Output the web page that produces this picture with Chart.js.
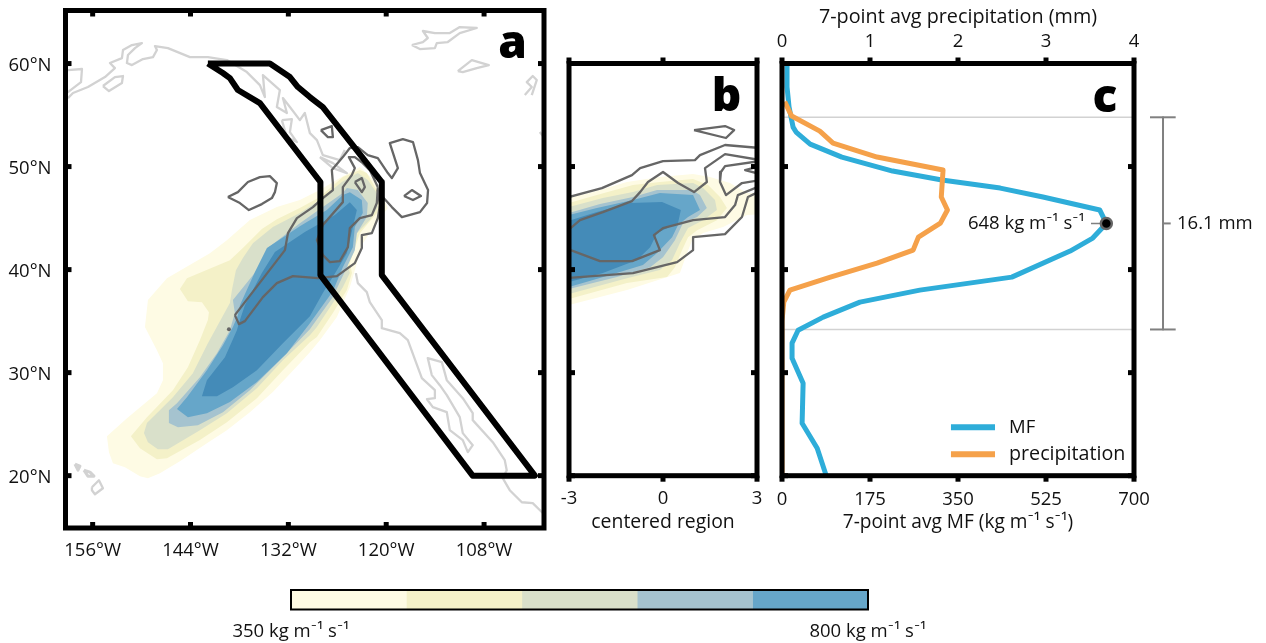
<!DOCTYPE html>
<html>
<head>
<meta charset="utf-8">
<title>Moisture flux and precipitation</title>
<script src="https://cdn.jsdelivr.net/npm/chart.js@4/dist/chart.umd.min.js"></script>
<style>
  html, body { margin: 0; padding: 0; background: #fff; }
  #page { position: relative; width: 1266px; height: 643px; overflow: hidden; }
  canvas { position: absolute; }
</style>
</head>
<body>
<div id="page">
  <canvas id="panelA" width="556" height="570" style="left:0;top:0"></canvas>
  <canvas id="panelB" width="222" height="540" style="left:550px;top:0"></canvas>
  <canvas id="panelC" width="494" height="540" style="left:772px;top:0"></canvas>
  <canvas id="colorbar" width="730" height="63" style="left:220px;top:580px"></canvas>
</div>
<script>
// --- tick labels / categories ---
const latTicks = [20, 30, 40, 50, 60];
const lonTicks = [-156, -144, -132, -120, -108];
const centeredTicks = [-3, 0, 3];
const precipTicks = [0, 1, 2, 3, 4];
const mfTicks = [0, 175, 350, 525, 700];
const barTicks = [350, 800];
const levelColors = ['#FEFBE4', '#F4F1C8', '#D9E0CA', '#A5C3CF', '#66A6C9', '#448BB8'];
const barEdges = [350, 440, 530, 620, 710, 800];

// --- panel a: filled MF levels, [lon, lat] ---
const mapLevel1 = [[-154.25,23.83],[-154,22.28],[-153.51,21.21],[-152.04,20.82],[-150.2,19.95],[-149.22,19.76],[-147.75,20.24],[-145.3,21.41],[-141.99,23.15],[-139.54,24.42],[-136.72,26.16],[-133.9,28.11],[-130.59,30.92],[-129.36,31.99],[-128.14,33.15],[-126.05,35.39],[-124.46,38.3],[-123.85,39.95],[-122.99,42.38],[-121.4,44.32],[-119.8,45.97],[-120.78,47.72],[-121.76,48.88],[-123.23,49.95],[-125.69,48.88],[-128.14,47.72],[-130.59,46.75],[-133.41,46.07],[-136.72,44.81],[-139.54,42.86],[-141.62,41.6],[-146.89,39.17],[-149.22,37.04],[-149.59,34.42],[-148.12,32.18],[-147.38,30.92],[-147.38,29.27],[-148.12,28.01],[-151.79,25.58]];
const mapLevel2 = [[-151.31,23.83],[-150.2,22.67],[-148.12,21.6],[-146.89,21.7],[-142.85,23.45],[-139.54,25.19],[-135.86,27.52],[-132.67,30.24],[-129.36,32.96],[-128.5,33.45],[-126.54,35.78],[-124.82,38.01],[-124.2,39.66],[-124.46,40.63],[-123.23,43.54],[-121.15,45.49],[-120.54,47.04],[-121.4,48.01],[-122.38,49.37],[-123.23,49.66],[-125.32,48.98],[-128.14,47.04],[-130.59,45.97],[-133.41,44.9],[-135.25,43.93],[-137.58,42.09],[-139.17,40.92],[-144.44,39.17],[-145.3,38.11],[-144.32,36.94],[-142.6,36.84],[-141.74,35.87],[-141.87,35.1],[-142.85,33.15],[-144.32,30.53],[-146.16,28.3],[-149.34,25.68]];
const mapLevel3 = [[-149.71,24.13],[-149.22,23.25],[-148,22.57],[-146.77,22.57],[-142.85,24.42],[-139.54,26.07],[-135.86,28.49],[-132.67,31.21],[-129.36,33.64],[-128.5,34.42],[-126.54,36.75],[-125.32,38.3],[-124.46,39.66],[-124.82,40.63],[-123.6,43.54],[-122.01,44.81],[-121.03,46.07],[-121.15,47.43],[-122.26,48.69],[-123.48,49.37],[-125.44,48.5],[-128.14,46.75],[-130.59,45.49],[-133.9,44.13],[-136.35,42.57],[-137.58,41.12],[-138.43,39.95],[-138.92,38.01],[-139.17,36.75],[-141.87,32.86],[-143.71,29.95],[-146.16,27.62],[-149.34,25.1]];
const mapLevel4 = [[-146.65,26.36],[-146.65,25.1],[-145.54,24.71],[-143.09,24.9],[-140.02,26.16],[-136.72,28.3],[-133.04,31.21],[-129.36,34.22],[-126.54,37.33],[-124.82,40.24],[-123.85,41.89],[-123.6,43.54],[-122.38,45.1],[-122.26,46.46],[-123.48,47.72],[-124.82,47.91],[-125.32,47.43],[-127.77,46.07],[-130.59,44.51],[-134.51,42.09],[-135.86,39.95],[-138.8,37.04],[-138.56,35.78],[-139.17,34.12],[-140.76,31.89],[-142.85,29.56],[-145.66,27.04]];
const mapLevel5 = [[-145.66,26.46],[-144.32,25.68],[-141.99,26.07],[-139.17,27.14],[-135.86,29.08],[-132.18,31.89],[-129.36,34.8],[-126.54,37.91],[-125.32,40.24],[-124.09,42.18],[-123.85,44.13],[-122.87,45.49],[-122.99,46.75],[-124.46,47.52],[-125.32,47.23],[-127.28,45.78],[-130.59,44.22],[-134.63,42.09],[-136.1,39.76],[-137.94,36.55],[-138.19,35.58],[-138.8,34.42],[-140.02,32.67],[-141.99,30.24],[-144.44,27.62]];
const mapLevel6 = [[-142.6,27.72],[-140.76,27.72],[-138.8,28.59],[-135.86,30.24],[-132.67,32.86],[-129.36,35.48],[-127.77,37.72],[-126.05,39.95],[-124.82,41.6],[-124.09,44.13],[-123.6,45.78],[-124.46,46.55],[-126.3,45.29],[-129.98,43.64],[-133.65,41.7],[-135.25,39.66],[-137.33,36.55],[-137.94,35.1],[-138.31,34.12],[-139.78,31.5],[-141.99,29.27]];

// --- panel a: precipitation contours ---
const contourGulf = [[-139.42,47.04],[-138.19,47.52],[-136.96,48.5],[-135.49,48.98],[-134.27,49.08],[-133.41,48.4],[-133.65,47.52],[-134.02,46.94],[-135.25,46.36],[-136.84,45.78],[-137.94,46.46]];
const contourHaida = [[-128.02,53.54],[-126.67,53.93],[-126.54,52.86],[-127.15,52.86]];
const contourInner = [[-121.03,48.01],[-121.15,46.46],[-121.76,45.29],[-123.23,45],[-124.46,44.03],[-124.7,42.18],[-125.69,40.82],[-126.91,40.73],[-127.77,41.41],[-128.5,42.86],[-127.77,44.32],[-125.32,46.55],[-125.32,48.01],[-124.22,49.17],[-123.85,49.85],[-124.58,50.92],[-123.85,50.92],[-122.87,50.34],[-122.01,49.66]];
const contourIsland = [[-123.85,48.5],[-122.99,48.88],[-122.62,48.01],[-122.99,47.52]];
const contourInland = [[-117.82,47.14],[-116.85,47.72],[-115.74,47.14],[-116.72,46.75]];
const contourOuter = [[-138.56,35.58],[-132.42,41.89],[-132.05,43.54],[-130.95,45],[-128.99,46.07],[-127.77,46.94],[-126.54,47.72],[-126.54,48.4],[-126.67,49.66],[-125.32,50.92],[-124.46,51.8],[-123.48,51.89],[-122.26,51.12],[-121.03,50.82],[-119.8,49.37],[-119.31,48.88],[-118.57,49.85],[-119.56,52.28],[-117.96,52.67],[-116.72,52.38],[-116.11,50.63],[-115.86,49.37],[-114.87,47.72],[-114.99,46.46],[-115.86,45.58],[-118.08,45.1],[-119.31,46.07],[-120.42,47.04],[-121.03,47.72],[-120.78,46.26],[-121.03,45],[-121.76,43.54],[-122.99,43.35],[-122.99,42.09],[-123.85,40.63],[-126.05,39.37],[-128.38,39.17],[-131.44,39.37],[-133.41,38.69],[-135.12,37.33],[-137.33,35],[-138.06,34.71]];
const contourDot = [[-139.29,34.22]];

// --- panel a: transect outline ---
const transect = [[-141.87,60],[-134.27,60],[-131.81,58.69],[-130.83,57.72],[-129.36,56.75],[-127.77,55.78],[-120.54,48.5],[-120.54,39.47],[-101.77,20],[-109.4,20],[-128.07,39.47],[-128.07,48.5],[-135.49,56.16],[-138.19,57.43],[-139.17,58.59],[-140.03,59.08]];

// --- panel a: coastlines ---
const coastAlaska = [[-159.03,56.65],[-158.41,57.14],[-156.58,57.72],[-154.49,58.69],[-153.27,59.56],[-153.88,60.05],[-152.41,60.53],[-152.28,61.31],[-151.18,61.8],[-149.96,61.99],[-150.81,61.5],[-151.67,60.83],[-151.8,60.05],[-151.18,59.85],[-149.83,60.44],[-148.6,60.63],[-148.12,61.31],[-148.36,61.7],[-146.77,61.5],[-144.07,60.63],[-141.87,60.63],[-139.54,60.34],[-137.09,59.17],[-135.49,57.91],[-134.88,56.75],[-135.12,58.88],[-133.04,57.43],[-133.41,55.78],[-132.18,55.2],[-132.67,56.65],[-131.81,55.78],[-130.59,54.51],[-129.98,55.2],[-129.36,53.25],[-128.5,52.57],[-127.77,51.11],[-125.69,50.63],[-125.08,51.6]];
const coastHaida = [[-132.8,54.51],[-131.57,54.61],[-131.81,53.35],[-130.95,52.38],[-132.18,52.86]];
const coastVancouver = [[-128.14,50.92],[-126.54,50.34],[-124.82,49.37],[-126.54,49.85]];
const coastKodiak = [[-154.74,57.82],[-153.27,58.69],[-152.28,58.79],[-152.41,58.11],[-154,57.33]];
const coastWest = [[-160,59.37],[-159.03,59.37],[-157.31,59.47],[-157.43,58.2],[-159.03,57.23],[-160,56.84]];
const coastIslandA = [[-116.86,61.8],[-115.5,62.09],[-114.9,62.48],[-115.5,63.16],[-114.03,62.96],[-112.2,62.96],[-110.98,63.54],[-108.9,63.45],[-110.98,62.96],[-112.45,62.09],[-113.8,61.99],[-114.03,61.5],[-115.88,61.41]];
const coastIslandB = [[-111.22,59.27],[-109.5,60.34],[-107.42,59.85],[-108.9,59.56],[-110.61,59.17]];
const coastIslandC = [[-103,56.94],[-102.15,57.72],[-102.76,58.2],[-102.03,58.79],[-101.54,58.4],[-102.15,56.94]];
const coastIslandD = [[-101.17,53.35],[-100.4,52.57]];
const coastHawaiiA = [[-158.17,21.12],[-157.56,20.92],[-157.8,20.53]];
const coastHawaiiB = [[-157.07,20.53],[-156.33,20.34],[-155.84,19.95],[-156.58,19.95]];
const coastHawaiiC = [[-156.09,18.88],[-155.23,19.56],[-154.74,18.78],[-155.72,18.2],[-156.09,18.59]];
const coastMainland = [[-123.72,39.66],[-123.48,38.69],[-122.38,37.81],[-122.01,36.84],[-120.54,35.1],[-120.54,34.32],[-118.33,33.83],[-117.35,33.15],[-116.13,30.53],[-115.63,29.46],[-114.03,28.3],[-114.03,27.52],[-115,27.42],[-114.28,26.65],[-112.57,26.16],[-112.2,24.42],[-110.61,23.45],[-109.99,22.28],[-109.39,22.96],[-110.61,24.13],[-110.98,25.68],[-112.57,27.81],[-113.43,28.78],[-114.41,29.76],[-114.9,31.4],[-113.18,31.02],[-112.57,29.27],[-110.61,27.52],[-109.39,26.07],[-109.39,25.39],[-106.93,23.25],[-105.46,21.5],[-105.22,20.53],[-105.71,19.76],[-104.85,18.59],[-103.37,17.42],[-102.03,17.33],[-100.4,16.06]];

// --- panel b: filled levels, [centered position, lat] ---
const centeredLevel1 = [[-3.13,46.84],[-2.23,47.52],[-1.15,48.5],[-0.1,48.98],[0.96,49.27],[1.5,48.98],[2.14,48.4],[2.68,47.43],[3.1,47.43],[3.1,45.38],[2.68,45.29],[1.92,44.13],[1.28,43.54],[0.93,42.86],[0.77,41.6],[0.54,39.66],[-1.15,38.01],[-3.13,36.46]];
const centeredLevel2 = [[-3.13,46.36],[-2.11,47.23],[-0.96,48.2],[-0.1,48.5],[0.96,48.79],[1.44,48.2],[1.82,47.04],[2.04,45.97],[1.72,44.8],[1.09,43.83],[0.8,43.15],[0.61,41.89],[0.38,40.24],[0.13,39.27],[-1.15,38.69],[-3.13,37.04]];
const centeredLevel3 = [[-3.13,45.97],[-1.92,46.94],[-0.96,47.52],[-0.19,48.2],[0.96,48.4],[1.28,47.91],[1.66,46.75],[1.72,45.78],[1.28,44.8],[0.8,44.03],[0.54,42.57],[0.29,40.92],[-0.1,39.95],[-1.15,39.17],[-3.13,37.52]];
const centeredLevel4 = [[-3.13,45.39],[-2.01,46.36],[-0.96,47.04],[-0.19,47.72],[0.93,47.72],[1.18,47.23],[1.4,45.97],[1.09,45.1],[0.64,44.51],[0.38,42.86],[0,41.21],[-0.41,40.24],[-1.47,39.27],[-3.13,38.01]];
const centeredLevel5 = [[-3.13,45.19],[-2.11,45.97],[-0.96,46.75],[-0.1,47.43],[0.96,47.23],[1.18,45.78],[0.8,45.1],[0.48,44.32],[0.29,43.15],[-0.19,41.6],[-0.64,40.44],[-1.69,39.47],[-3.13,38.2]];
const centeredLevel6 = [[-3.13,44.61],[-2.11,45.58],[-1.05,46.46],[-0.03,46.55],[0.57,45.78],[0.48,44.51],[-0.19,43.54],[-0.41,42.18],[-0.83,40.92],[-1.92,39.66],[-3.13,38.69]];

// --- panel b: contours ---
const centeredLoop = [[0.99,53.54],[1.98,53.93],[2.27,53.54],[2.01,52.77],[0.99,53.54]];
const centeredLineA = [[-3.13,46.94],[-1.95,47.91],[-0.99,49.17],[-0.73,49.85],[0,50.53],[1.02,50.63],[1.18,51.11],[1.98,52.09],[3.1,51.8]];
const centeredLineB = [[3.1,50.63],[1.98,51.21],[1.34,49.85],[1.4,48.5],[0.99,47.52],[0.48,48.4],[0,49.47],[-0.48,48.5],[-0.73,47.52],[-0.99,46.65],[-1.92,45.58],[-2.65,44.8],[-3.13,43.54]];
const centeredLineC = [[3.1,50.53],[1.98,50.05],[1.85,49.47],[1.82,48.5],[2.01,47.23],[2.52,48.4],[3.1,48.69]];
const centeredLineD = [[3.1,50.05],[2.62,49.66],[3.1,49.27]];
const centeredLineE = [[-3.13,42.09],[-2.01,40.82],[-0.99,40.82],[-0.1,41.89],[-0.29,43.35],[0,44.03],[0.96,44.8],[1.98,45.1],[2.3,46.26],[2.39,47.23],[3.1,48.11]];
const centeredLineF = [[-3.13,39.17],[-0.96,39.66],[0.45,40.73],[0.96,41.89],[0.96,43.15],[1.98,43.44],[2.52,45.1],[2.71,47.04],[3.1,47.62]];

// --- panel c: profiles ---
const mfLat = [60, 57.72, 55.78, 53.83, 53.35, 52.18, 50.92, 49.56, 48.69, 47.91, 47.04, 45.78, 44.48, 43.06, 41.8, 39.27, 38.01, 36.84, 35.39, 34.12, 32.86, 31.4, 28.98, 25.09, 22.67, 20];
const mfValues = [10, 10, 14, 22, 28, 56, 119, 220, 318, 434, 519, 632, 645, 618, 573, 457, 274, 155, 82, 32, 20, 20, 42, 40, 70, 88];
const precipLat = [56.3, 54.9, 53.44, 52.28, 50.92, 49.66, 47.04, 45.78, 44.51, 43.15, 41.89, 40.63, 39.27, 38.01, 36.84, 35, 20];
const precipValues = [0.03, 0.11, 0.43, 0.58, 1.08, 1.83, 1.81, 1.88, 1.8, 1.55, 1.49, 1.08, 0.55, 0.09, 0.02, 0, 0];
const eventLat = [54.78, 44.48, 34.19];
const peakValue = 645;

const FONT = '"Open Sans", Lato, sans-serif';
const FONT_SIZE = 18.5;
const LETTER_FONT = `800 46px ${FONT}`;
const TEXT = '#111';
const CONTOUR = '#666';
const COAST = '#d2d2d2';
const MF_BLUE = '#2EADD9';
const PRECIP_ORANGE = '#F5A14A';
const BRACKET = '#808080';
const COAST_W = 2.3, CONTOUR_W = 2.3;

const xy = pts => pts.map(([x, y]) => ({ x, y }));
const ring = pts => pts.concat([pts[0]]);
const area = (pts, color) => ({ data: xy(ring(pts)), showLine: true, fill: 'shape', backgroundColor: color, borderColor: color, borderWidth: 0, pointRadius: 0 });
const line = (pts, color, width, extra) => Object.assign({ data: xy(pts), showLine: true, fill: false, borderColor: color, borderWidth: width, pointRadius: 0, borderJoinStyle: 'round' }, extra);
// listed bottom to top; chart.js draws lowest order last
const stack = list => list.map((d, i) => Object.assign(d, { order: list.length - i }));

// frame and short tick marks on all four sides
function framePlugin(cfg) {
    return {
        id: 'frame',
        afterDraw(chart) {
            const { ctx, chartArea: a } = chart;
            ctx.save();
            ctx.strokeStyle = '#000';
            ctx.lineWidth = cfg.width;
            ctx.strokeRect(a.left, a.top, a.right - a.left, a.bottom - a.top);
            ctx.lineCap = 'butt';
            const mark = (x0, y0, x1, y1) => { ctx.beginPath(); ctx.moveTo(x0, y0); ctx.lineTo(x1, y1); ctx.stroke(); };
            const len = cfg.tick || 0;
            if (len) {
                const topDir = cfg.topOut ? -1 : 1;
                const botDir = cfg.bottomOut ? 1 : -1;
                chart.scales[cfg.topScale].ticks.forEach(t => {
                    const px = chart.scales[cfg.topScale].getPixelForValue(t.value);
                    mark(px, a.top, px, a.top + topDir * len);
                });
                chart.scales[cfg.bottomScale].ticks.forEach(t => {
                    const px = chart.scales[cfg.bottomScale].getPixelForValue(t.value);
                    mark(px, a.bottom, px, a.bottom + botDir * len);
                });
                chart.scales.y.ticks.forEach(t => {
                    const py = chart.scales.y.getPixelForValue(t.value);
                    mark(a.left, py, a.left + len, py);
                    mark(a.right, py, a.right - len, py);
                });
            }
            ctx.restore();
        }
    };
}

// free text placed in data coordinates
function textPlugin(items) {
    return {
        id: 'freeText',
        afterDraw(chart) {
            const { ctx } = chart;
            ctx.save();
            items.forEach(it => {
                ctx.font = it.font || `${FONT_SIZE}px ${FONT}`;
                ctx.fillStyle = it.color || TEXT;
                ctx.textAlign = it.align || 'left';
                ctx.textBaseline = it.baseline || 'middle';
                ctx.fillText(it.text, chart.scales[it.scale || 'x'].getPixelForValue(it.x), chart.scales.y.getPixelForValue(it.y));
            });
            ctx.restore();
        }
    };
}

const fixTicks = vals => scale => { scale.ticks = vals.map(value => ({ value })); };
const tickFont = { family: FONT, size: FONT_SIZE };

function axis(min, max, vals, size, extra) {
    const isWidth = extra.position === 'left' || extra.position === 'right';
    return Object.assign({
        type: 'linear', min, max,
        afterBuildTicks: fixTicks(vals),
        afterFit: scale => {
            if (isWidth) scale.width = size; else scale.height = size;
            // keep long end labels from pushing the plot area in
            scale.paddingLeft = scale.paddingRight = scale.paddingTop = scale.paddingBottom = 0;
        },
        grid: { display: false, drawTicks: false },
        border: { display: false },
    }, extra, {
        ticks: Object.assign({ color: TEXT, font: tickFont, maxRotation: 0, minRotation: 0, autoSkip: false, includeBounds: false }, extra.ticks || {}),
    });
}

const baseOptions = (padding, scales) => ({
    responsive: false,
    animation: false,
    layout: { padding },
    plugins: { legend: { display: false }, tooltip: { enabled: false } },
    elements: { line: { tension: 0 } },
    scales,
});

new Chart(document.getElementById('panelA'), {
    type: 'scatter',
    data: {
        datasets: stack([
            area(mapLevel1, levelColors[0]), area(mapLevel2, levelColors[1]), area(mapLevel3, levelColors[2]),
            area(mapLevel4, levelColors[3]), area(mapLevel5, levelColors[4]), area(mapLevel6, levelColors[5]),
            line(coastAlaska, COAST, COAST_W), line(ring(coastHaida), COAST, COAST_W), line(ring(coastVancouver), COAST, COAST_W),
            line(ring(coastKodiak), COAST, COAST_W), line(coastWest, COAST, COAST_W), line(ring(coastIslandA), COAST, COAST_W),
            line(ring(coastIslandB), COAST, COAST_W), line(coastIslandC, COAST, COAST_W), line(coastIslandD, COAST, COAST_W),
            line(ring(coastHawaiiA), COAST, 3), line(ring(coastHawaiiB), COAST, 3), line(ring(coastHawaiiC), COAST, COAST_W),
            line(coastMainland, COAST, COAST_W),
            line(ring(contourGulf), CONTOUR, CONTOUR_W), line(ring(contourHaida), CONTOUR, CONTOUR_W), line(ring(contourInner), CONTOUR, CONTOUR_W),
            line(ring(contourIsland), CONTOUR, CONTOUR_W), line(ring(contourInland), CONTOUR, CONTOUR_W), line(ring(contourOuter), CONTOUR, CONTOUR_W),
            { data: xy(contourDot), pointRadius: 2, pointBackgroundColor: CONTOUR, pointBorderWidth: 0 },
            line(ring(transect), '#000', 6),
        ]),
    },
    options: baseOptions({ top: 10.5, right: 12 }, {
        x: axis(-159.33, -100.65, lonTicks, 42, { position: 'bottom', ticks: { padding: 12, callback: v => Math.abs(v) + '°W' } }),
        y: axis(14.92, 65.15, latTicks, 65.5, { position: 'left', ticks: { padding: 14, labelOffset: 2, callback: v => v + '°N' } }),
    }),
    plugins: [
        framePlugin({ width: 5, tick: 6, topScale: 'x', bottomScale: 'x' }),
        textPlugin([{ text: 'a', x: -104.5, y: 60.5, align: 'center', baseline: 'alphabetic', font: LETTER_FONT, color: '#000' }]),
    ],
});

new Chart(document.getElementById('panelB'), {
    type: 'scatter',
    data: {
        datasets: stack([
            area(centeredLevel1, levelColors[0]), area(centeredLevel2, levelColors[1]), area(centeredLevel3, levelColors[2]),
            area(centeredLevel4, levelColors[3]), area(centeredLevel5, levelColors[4]), area(centeredLevel6, levelColors[5]),
            line(centeredLoop, CONTOUR, CONTOUR_W), line(centeredLineA, CONTOUR, CONTOUR_W), line(centeredLineB, CONTOUR, CONTOUR_W),
            line(centeredLineC, CONTOUR, CONTOUR_W), line(centeredLineD, CONTOUR, CONTOUR_W), line(centeredLineE, CONTOUR, CONTOUR_W), line(centeredLineF, CONTOUR, CONTOUR_W),
        ]),
    },
    options: baseOptions({ top: 63.5, right: 15 }, {
        x: axis(-3, 3, centeredTicks, 64.3, {
            position: 'bottom',
            ticks: { padding: 12 },
            title: { display: true, text: 'centered region', color: TEXT, font: { family: FONT, size: 19.4 }, padding: { top: 0, bottom: 6 } },
        }),
        y: axis(20, 60, latTicks, 19, { position: 'left', ticks: { display: false } }),
    }),
    plugins: [
        framePlugin({ width: 5, tick: 6, topScale: 'x', bottomScale: 'x', topOut: true, bottomOut: true }),
        textPlugin([{ text: 'b', x: 2.03, y: 55.39, align: 'center', baseline: 'alphabetic', font: LETTER_FONT, color: '#000' }]),
    ],
});

const bracketX = 757.7, capLo = 731.8, capHi = 782.9, midTo = 773;
new Chart(document.getElementById('panelC'), {
    type: 'scatter',
    data: {
        datasets: stack([
            line([[0, eventLat[0]], [700, eventLat[0]]], '#d2d2d2', 1.5, { xAxisID: 'xM' }),
            line([[0, eventLat[2]], [700, eventLat[2]]], '#d2d2d2', 1.5, { xAxisID: 'xM' }),
            line(mfValues.map((v, i) => [v, mfLat[i]]), MF_BLUE, 5, { xAxisID: 'xM' }),
            line(precipValues.map((v, i) => [v, precipLat[i]]), PRECIP_ORANGE, 5, { xAxisID: 'xP' }),
            line([[capLo, eventLat[0]], [capHi, eventLat[0]]], BRACKET, 2, { xAxisID: 'xM', clip: false }),
            line([[capLo, eventLat[2]], [capHi, eventLat[2]]], BRACKET, 2, { xAxisID: 'xM', clip: false }),
            line([[bracketX, eventLat[0]], [bracketX, eventLat[2]]], BRACKET, 2, { xAxisID: 'xM', clip: false }),
            line([[bracketX, eventLat[1]], [midTo, eventLat[1]]], BRACKET, 2, { xAxisID: 'xM', clip: false }),
            line([[614.5, eventLat[1]], [peakValue, eventLat[1]]], BRACKET, 1.5, { xAxisID: 'xM' }),
            { data: [{ x: peakValue, y: eventLat[1] }], xAxisID: 'xM', pointRadius: 5.5, pointBackgroundColor: '#000', pointBorderColor: '#666', pointBorderWidth: 2.5 },
            line([[336, 24.7], [423.6, 24.7]], MF_BLUE, 6, { xAxisID: 'xM' }),
            line([[336, 22.08], [423.6, 22.08]], PRECIP_ORANGE, 6, { xAxisID: 'xM' }),
        ]),
    },
    options: baseOptions({ right: 132 }, {
        xP: axis(0, 4, precipTicks, 63.5, {
            position: 'top',
            ticks: { padding: 11 },
            title: { display: true, text: '7-point avg precipitation (mm)', color: TEXT, font: { family: FONT, size: 19.8 }, padding: { top: 5, bottom: 0 } },
        }),
        xM: axis(0, 700, mfTicks, 64.3, {
            position: 'bottom',
            ticks: { padding: 13 },
            title: { display: true, text: '7-point avg MF (kg m⁻¹ s⁻¹)', color: TEXT, font: { family: FONT, size: 19.1 }, padding: { top: 0, bottom: 6 } },
        }),
        y: axis(20, 60, latTicks, 10, { position: 'left', ticks: { display: false } }),
    }),
    plugins: [
        framePlugin({ width: 5, tick: 6, topScale: 'xP', bottomScale: 'xM', topOut: true, bottomOut: true }),
        textPlugin([
            { text: 'c', scale: 'xM', x: 642, y: 55.3, align: 'center', baseline: 'alphabetic', font: LETTER_FONT, color: '#000' },
            { text: '648 kg m⁻¹ s⁻¹', scale: 'xM', x: 602.5, y: eventLat[1], align: 'right' },
            { text: 'MF', scale: 'xM', x: 451.4, y: 24.7 },
            { text: 'precipitation', scale: 'xM', x: 451.4, y: 22.08, font: `19.7px ${FONT}` },
            { text: '16.1 mm', scale: 'xM', x: 785.5, y: eventLat[1] },
        ]),
    ],
});

new Chart(document.getElementById('colorbar'), {
    type: 'bar',
    data: {
        labels: ['MF'],
        datasets: barEdges.slice(0, -1).map((lo, i) => ({
            data: [[lo, barEdges[i + 1]]],
            backgroundColor: levelColors[i],
            grouped: false,
            barPercentage: 1,
            categoryPercentage: 1,
        })),
    },
    options: Object.assign(baseOptions({ top: 10, right: 82 }, {
        x: axis(350, 800, barTicks, 33.5, { position: 'bottom', ticks: { padding: 11, callback: v => v + ' kg m⁻¹ s⁻¹' } }),
        y: { type: 'category', display: false, afterFit: s => { s.width = 71; } },
    }), { indexAxis: 'y' }),
    plugins: [framePlugin({ width: 2 })],
});
</script>
</body>
</html>
